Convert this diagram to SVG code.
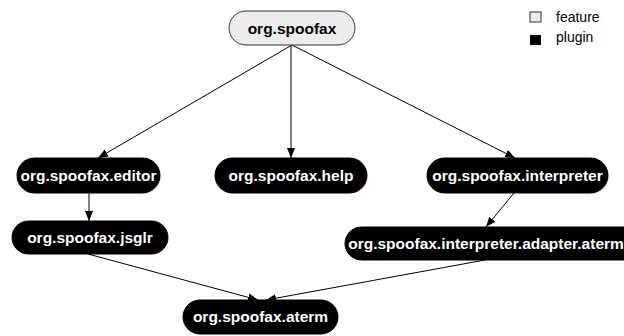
<svg xmlns="http://www.w3.org/2000/svg" width="624" height="336" viewBox="0 0 624 336">
<style>
.plugin rect{fill:#000;stroke:#000}
.plugin text{fill:#fff}
.feature rect{fill:#ececec;stroke:#333;stroke-width:1}
text{font-family:"Liberation Sans",Arial,sans-serif;font-weight:bold;font-size:15.5px;text-anchor:middle}
.legend text{font-weight:normal;text-anchor:start;font-size:14px}
.edge{stroke:#000;stroke-width:1;fill:none;marker-end:url(#ah)}
</style>
<defs>
<marker id="ah" viewBox="0 0 10 10" refX="10" refY="5" markerWidth="10" markerHeight="10" markerUnits="userSpaceOnUse" orient="auto">
<path d="M0,1 L10,5 L0,9 z" fill="#000"/>
</marker>
</defs>
<rect width="624" height="336" fill="#fff"/>
<g id="connectors">
<line class="edge" x1="292" y1="45" x2="98" y2="158"/>
<line class="edge" x1="291" y1="45" x2="291" y2="158"/>
<line class="edge" x1="292" y1="45" x2="515" y2="158"/>
<line class="edge" x1="89" y1="193" x2="89" y2="221"/>
<line class="edge" x1="514" y1="193" x2="486" y2="227"/>
<line class="edge" x1="88" y1="254" x2="258" y2="300"/>
<line class="edge" x1="485" y1="260" x2="266" y2="300"/>
</g>
<g id="org.spoofax" class="feature">
<rect x="229" y="11" width="126" height="34" rx="17"/>
<text x="292" y="33.5">org.spoofax</text>
</g>
<g id="legend" class="legend">
<rect x="530" y="12" width="11" height="10" fill="#ececec" stroke="#333"/>
<text x="556" y="22">feature</text>
<rect x="530" y="35" width="11" height="10" fill="#000"/>
<text x="556" y="42">plugin</text>
</g>
<g id="org.spoofax.editor" class="plugin">
<rect x="17" y="158" width="143" height="35" rx="17.5"/>
<text x="88.5" y="181">org.spoofax.editor</text>
</g>
<g id="org.spoofax.help" class="plugin">
<rect x="215" y="158" width="152" height="35" rx="17.5"/>
<text x="291" y="181">org.spoofax.help</text>
</g>
<g id="org.spoofax.interpreter" class="plugin">
<rect x="427" y="158" width="181" height="35" rx="17.5"/>
<text x="517.5" y="181">org.spoofax.interpreter</text>
</g>
<g id="org.spoofax.jsglr" class="plugin">
<rect x="12" y="221" width="156" height="33" rx="16.5"/>
<text x="90" y="243">org.spoofax.jsglr</text>
</g>
<g id="org.spoofax.interpreter.adapter.aterm" class="plugin">
<rect x="345" y="227" width="300" height="33" rx="16.5"/>
<text x="486" y="249">org.spoofax.interpreter.adapter.aterm</text>
</g>
<g id="org.spoofax.aterm" class="plugin">
<rect x="183" y="300" width="155" height="34" rx="17"/>
<text x="260.5" y="322">org.spoofax.aterm</text>
</g>
</svg>
